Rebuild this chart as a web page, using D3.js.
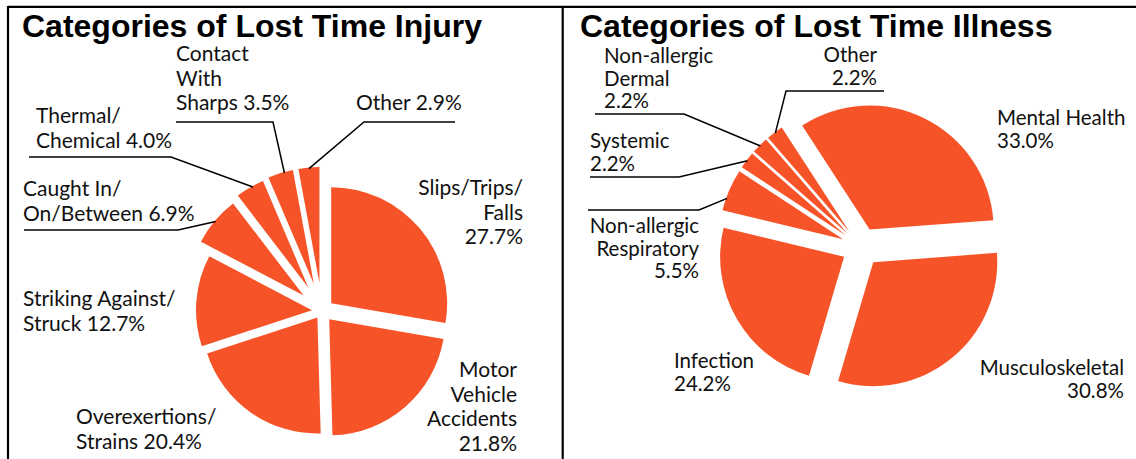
<!DOCTYPE html>
<html>
<head>
<meta charset="utf-8">
<script src="https://cdn.jsdelivr.net/npm/d3@7"></script>
<style>
  body { margin: 0; background: #fff; }
  svg { display: block; }
  .title { font-family: "Liberation Sans", Arial, sans-serif; font-weight: bold; font-size: 32px; fill: #000; }
  .lbl { font-family: Lato, sans-serif; fill: #111; }
  .leader { fill: none; stroke: #000; stroke-width: 1.5; }
  .frame { stroke: #000; stroke-width: 2.2; }
</style>
</head>
<body>
<svg id="chart" width="1136" height="459"></svg>
<script>
// Lost time injury categories ('|' marks a line break in the label)
var injuryCats = ['Slips/Trips/|Falls', 'Motor|Vehicle|Accidents', 'Overexertions/|Strains',
  'Striking Against/|Struck', 'Caught In/|On/Between', 'Thermal/|Chemical', 'Contact|With|Sharps', 'Other']
var injuryVals = [27.7, 21.8, 20.4, 12.7, 6.9, 4.0, 3.5, 2.9]

// Lost time illness categories
var illnessCats = ['Mental Health', 'Musculoskeletal', 'Infection', 'Non-allergic|Respiratory',
  'Systemic', 'Non-allergic|Dermal', 'Other']
var illnessVals = [33.0, 30.8, 24.2, 5.5, 2.2, 2.2, 2.2]

var fill = '#f65428'
var svg = d3.select('#chart')

// Frame lines
svg.append('line').attr('class', 'frame').attr('x1', 8).attr('x2', 1136).attr('y1', 6.8).attr('y2', 6.8)
svg.append('line').attr('class', 'frame').attr('x1', 8).attr('x2', 8).attr('y1', 6).attr('y2', 459)
svg.append('line').attr('class', 'frame').attr('x1', 562.7).attr('x2', 562.7).attr('y1', 6).attr('y2', 459)

var deg = Math.PI / 180

function drawPie(opts) {
  var g = svg.append('g')

  g.append('text')
    .attr('class', 'title')
    .attr('x', opts.titleX)
    .attr('y', 37)
    .text(opts.title)

  var pie = d3.pie()
    .sort(null)
    .value(d => d)
    .startAngle(opts.start * deg)
    .endAngle(opts.start * deg + 2 * Math.PI)

  var arc = d3.arc().innerRadius(0).outerRadius(opts.r)
  var arcs = pie(opts.vals)

  // Apex of each (exploded) slice
  var apex = arcs.map(function(a, i) {
    var mid = (a.startAngle + a.endAngle) / 2
    var d = opts.explode[i]
    return [opts.cx + d * Math.sin(mid), opts.cy - d * Math.cos(mid)]
  })

  g.selectAll('path.slice')
    .data(arcs)
    .join('path')
    .attr('class', 'slice')
    .attr('fill', fill)
    .attr('transform', (a, i) => 'translate(' + apex[i][0] + ',' + apex[i][1] + ')')
    .attr('d', arc)

  // Labels and leader lines
  opts.labels.forEach(function(l, i) {
    var lines = opts.cats[i].split('|')
    var pct = opts.vals[i].toFixed(1) + '%'
    if (l.own) lines.push(pct)
    else lines[lines.length - 1] += ' ' + pct

    var t = g.append('text')
      .attr('class', 'lbl')
      .attr('font-size', opts.fontSize)
      .attr('text-anchor', l.anchor || 'start')
    t.selectAll('tspan')
      .data(lines)
      .join('tspan')
      .attr('x', l.x)
      .attr('y', (d, k) => l.y + k * opts.lh)
      .text(d => d)

    if (l.leader) {
      var a = arcs[i]
      var f = l.at == null ? 0.5 : l.at
      var ang = a.startAngle + f * (a.endAngle - a.startAngle)
      var rr = opts.r - 1
      var end = [apex[i][0] + rr * Math.sin(ang), apex[i][1] - rr * Math.cos(ang)]
      g.append('path')
        .attr('class', 'leader')
        .attr('d', d3.line()(l.leader.concat([end])))
    }
  })
}

drawPie({
  title: 'Categories of Lost Time Injury',
  titleX: 22,
  cats: injuryCats,
  vals: injuryVals,
  cx: 322, cy: 311, r: 116, start: 0,
  explode: [12, 11, 8, 10, 24, 27, 28, 28],
  fontSize: 21, lh: 24.5,
  labels: [
    {x: 523, y: 195, anchor: 'end', own: true},
    {x: 517, y: 377, anchor: 'end', own: true},
    {x: 76, y: 424},
    {x: 23, y: 306},
    {x: 23, y: 196, leader: [[24, 230], [178, 230]]},
    {x: 36, y: 123, leader: [[29, 157], [171, 157]], at: 0.6},
    {x: 176, y: 61, leader: [[176, 122], [273, 122]], at: 0.65},
    {x: 356, y: 110, leader: [[455, 122], [364, 122]]}
  ]
})

drawPie({
  title: 'Categories of Lost Time Illness',
  titleX: 580,
  cats: illnessCats,
  vals: illnessVals,
  cx: 861, cy: 247, r: 124, start: -33,
  explode: [19.5, 19.5, 19.5, 19.5, 19.5, 19.5, 19.5],
  fontSize: 20.5, lh: 22.5,
  labels: [
    {x: 997, y: 125, own: true},
    {x: 1124, y: 375, anchor: 'end', own: true},
    {x: 674, y: 368, own: true},
    {x: 699, y: 233, anchor: 'end', own: true, leader: [[588, 210], [699, 210]], at: 0.3},
    {x: 590, y: 148, own: true, leader: [[590, 177], [679, 177]]},
    {x: 604, y: 63, own: true, leader: [[595, 114], [684, 114]]},
    {x: 877, y: 62, anchor: 'end', own: true, leader: [[884, 91], [786, 91]]}
  ]
})
</script>
</body>
</html>
